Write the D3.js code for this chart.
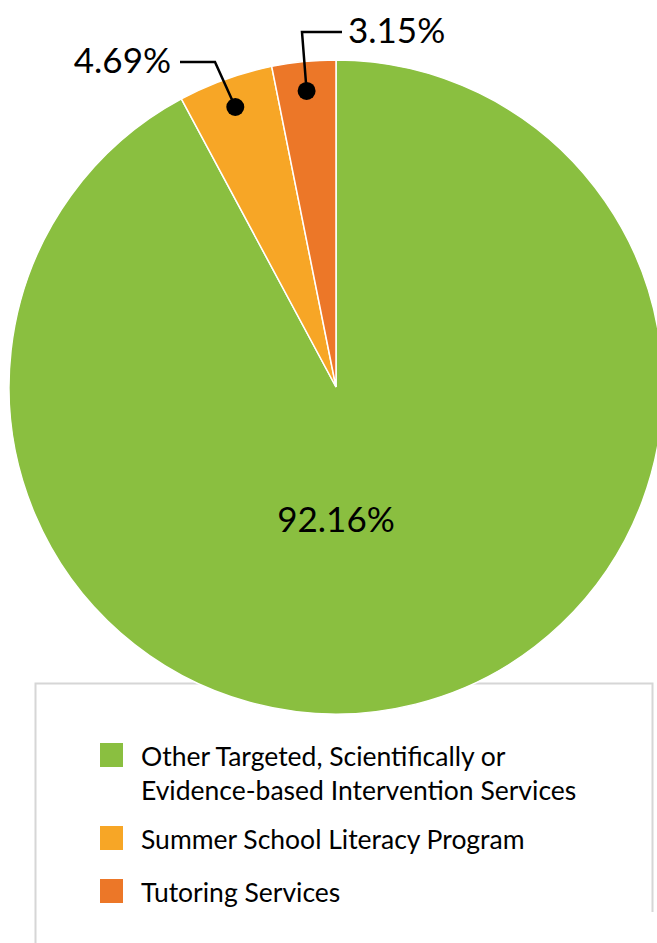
<!DOCTYPE html>
<html>
<head>
<meta charset="utf-8">
<script src="https://cdn.jsdelivr.net/npm/d3@7"></script>
<style>
  html, body { margin: 0; padding: 0; background: #fff; }
  svg { display: block; font-family: Lato, "Open Sans", sans-serif; }
</style>
</head>
<body>
<svg id="chart" width="657" height="943"></svg>
<script>
// Program spending shares
const categories = [
  "Other Targeted, Scientifically or Evidence-based Intervention Services",
  "Summer School Literacy Program",
  "Tutoring Services"
];
const values = [92.16, 4.69, 3.15];
const valueLabels = ["92.16%", "4.69%", "3.15%"];
const legendLines = [
  ["Other Targeted, Scientifically or", "Evidence-based Intervention Services"],
  ["Summer School Literacy Program"],
  ["Tutoring Services"]
];
const colors = ["#8abf40", "#f7a626", "#ec7728"];

const svg = d3.select("#chart");
const cx = 336, cy = 387, radius = 327;

// Legend frame sits beneath the pie
svg.append("path")
  .attr("d", "M35.5,943 V683.5 H652.5 V912")
  .attr("fill", "none")
  .attr("stroke", "#d6d6d6")
  .attr("stroke-width", 2);

const color = d3.scaleOrdinal().domain(categories).range(colors);
const pie = d3.pie().sort(null).value(d => d.value);
const data = categories.map((c, i) => ({ name: c, value: values[i], label: valueLabels[i] }));
const arcs = pie(data);
const arc = d3.arc().innerRadius(0).outerRadius(radius);
const dotArc = d3.arc().innerRadius(radius * 0.91).outerRadius(radius * 0.91);

const g = svg.append("g").attr("transform", `translate(${cx},${cy})`);
g.selectAll("path.slice")
  .data(arcs)
  .join("path")
  .attr("class", "slice")
  .attr("d", arc)
  .attr("fill", d => color(d.data.name))
  .attr("stroke", "#fff")
  .attr("stroke-width", 1.5);

// Big slice label inside the pie
g.append("text")
  .attr("x", 0)
  .attr("y", 145)
  .attr("text-anchor", "middle")
  .attr("font-size", 35)
  .attr("fill", "#000")
  .text(arcs[0].data.label);

// Small slices: dot + elbow leader + label
const leaders = [
  { i: 1, elbow: [-121, -325], end: [-156, -325], anchor: "end", tx: -165, ty: -314 },
  { i: 2, elbow: [-34, -355], end: [6, -355], anchor: "start", tx: 12, ty: -344 }
];
leaders.forEach(l => {
  const [px, py] = dotArc.centroid(arcs[l.i]);
  g.append("path")
    .attr("d", `M${px},${py} L${l.elbow[0]},${l.elbow[1]} L${l.end[0]},${l.end[1]}`)
    .attr("fill", "none")
    .attr("stroke", "#000")
    .attr("stroke-width", 2.5);
  g.append("circle")
    .attr("cx", px).attr("cy", py).attr("r", 9)
    .attr("fill", "#000");
  g.append("text")
    .attr("x", l.tx).attr("y", l.ty)
    .attr("text-anchor", l.anchor)
    .attr("font-size", 35)
    .attr("fill", "#000")
    .text(arcs[l.i].data.label);
});

// Legend
const legendY = [743, 826, 879];
const lg = svg.append("g");
categories.forEach((c, i) => {
  lg.append("rect")
    .attr("x", 100).attr("y", legendY[i])
    .attr("width", 23).attr("height", 24)
    .attr("fill", color(c));
  legendLines[i].forEach((line, j) => {
    lg.append("text")
      .attr("x", 141)
      .attr("y", legendY[i] + 23 + j * 34)
      .attr("font-size", 26.5)
      .attr("fill", "#000")
      .text(line);
  });
});
</script>
</body>
</html>
